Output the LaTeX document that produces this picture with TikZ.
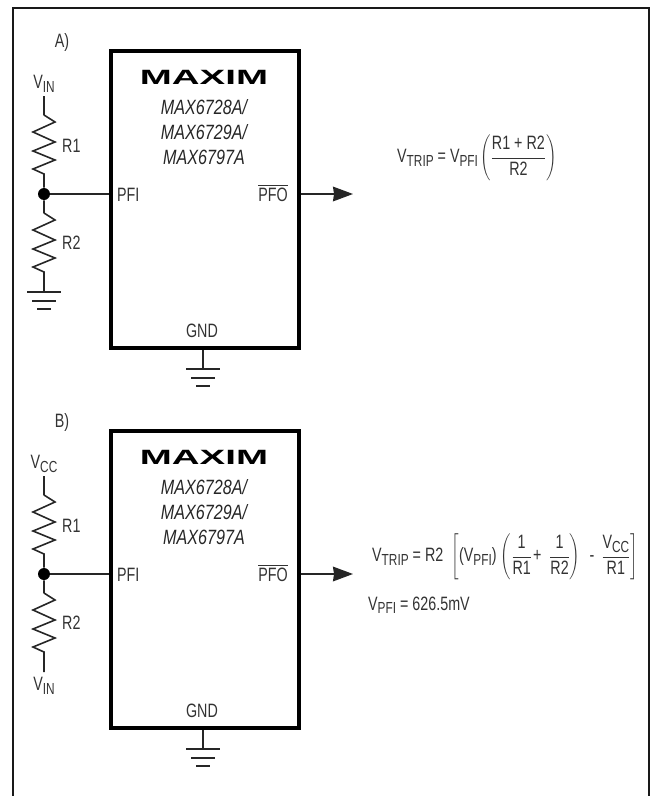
\documentclass[tikz,border=0pt]{standalone}
\usepackage{amsmath}
\usepackage{fontspec}
\setmainfont{Liberation Sans}
\usetikzlibrary{arrows.meta, positioning}

\newcommand{\vsub}[1]{V\raisebox{-2.5pt}{\fontsize{12}{12}\selectfont #1}}
\newcommand{\tbox}[1]{\hbox{#1}}

\tikzset{
  wire/.style = {line width=1.2pt, color=black!85},
  lbl/.style = {font=\fontsize{14.5}{14.5}\selectfont, text=black!80, inner sep=0pt, xscale=.74, transform shape},
  partno/.style = {font=\fontsize{15.5}{18.75}\selectfont\itshape, text=black!85, inner sep=0pt, align=center, xscale=.78, transform shape},
  logo/.style = {font=\fontsize{15.5}{15.5}\selectfont\bfseries, inner sep=0pt, xscale=1.86, transform shape},
  res/.style = {to path={(\tikztostart) -- ++(11,7) -- ++(-22,10) -- ++(22,10) -- ++(-22,9) -- ++(22,9) -- ++(-22,9) -- (\tikztotarget)}},
  gndsym/.pic = {
    \draw [wire] (-17,0) -- (17,0);
    \draw [wire] (-12,9) -- (12,9);
    \draw [wire] (-7,17) -- (7,17);
  }
}

\begin{document}
\begin{tikzpicture}[x=.75pt, y=-.75pt]
\useasboundingbox (0,0) rectangle (651,796);
\draw [line width=2.2pt, color=black!90] (13,796) -- (13,8) -- (649,8) -- (649,796);

\foreach \p/\y/\name/\vtop in {a/0/A)/\vsub{IN}, b/380/B)/\vsub{CC}} {
\begin{scope}[shift={(0,\y)}]
\node[draw, line width=2.7pt, minimum width=141pt, minimum height=222.75pt, anchor=north west, inner sep=0pt] (box\p) at (109,49) {};
\node[lbl] (name\p) at (62,42) {\name};
\node[logo] (logo\p) at (204,77) {MAXIM};
\node[partno] (part\p) at (204,132) {MAX6728A/\\MAX6729A/\\MAX6797A};
\node[lbl, anchor=west] (pfi\p) at (117,195) {PFI};
\node[lbl, anchor=east] (pfo\p) at (288,193) {$\overline{\tbox{PFO}}$};
\node[lbl] (gnd\p) at (202,331) {GND};
\node[lbl] (vtop\p) at (44,84) {\vtop};
\node[lbl, anchor=west] (rone\p) at (62,146) {R1};
\node[lbl, anchor=west] (rtwo\p) at (62,243) {R2};
\node[circle, fill=black, inner sep=0pt, minimum size=9pt] (dot\p) at (44,194) {};
\coordinate (top\p) at (44,96);
\coordinate (ra\p) at (44,115);
\coordinate (rb\p) at (44,174);
\coordinate (rc\p) at (44,213);
\coordinate (rd\p) at (44,272);
\coordinate (bot\p) at (44,292);
\coordinate (out\p) at (353,194);
\coordinate (gtop\p) at (203,369);
\draw [wire] (top\p) -- (ra\p) to[res] (rb\p) -- (dot\p);
\draw [wire] (dot\p) -- (rc\p) to[res] (rd\p) -- (bot\p);
\draw [wire] (dot\p) -- (dot\p -| box\p.west);
\draw [wire, -{Stealth[length=15pt, width=11pt, inset=.8pt]}] (dot\p -| box\p.east) -- (out\p);
\draw [wire] (box\p.south -| gtop\p) -- (gtop\p);
\pic at (gtop\p) {gndsym};
\end{scope}
}

\pic at (bota) {gndsym};
\node[lbl] (vinb) at (44,686) {\vsub{IN}};

\node[lbl, anchor=west] (eqa) at (397,158) {$\displaystyle \tbox{\vsub{TRIP} = \vsub{PFI}}\left(\frac{\tbox{R1 + R2}}{\tbox{R2}}\right)$};
\node[lbl, anchor=west] (eqb) at (372,557) {$\displaystyle \tbox{\vsub{TRIP} = R2\hspace{6pt}}\left[\tbox{(\vsub{PFI})\hspace{2pt}}\left(\frac{\tbox{1}}{\tbox{R1}}\tbox{\hspace{1pt}+\hspace{8pt}}\frac{\tbox{1}}{\tbox{R2}}\right)\tbox{\hspace{7pt}-\hspace{7pt}}\frac{\tbox{\vsub{CC}}}{\tbox{R1}}\right]$};
\node[lbl, anchor=west] (eqc) at (368,605) {\vsub{PFI} = 626.5mV};
\end{tikzpicture}
\end{document}
